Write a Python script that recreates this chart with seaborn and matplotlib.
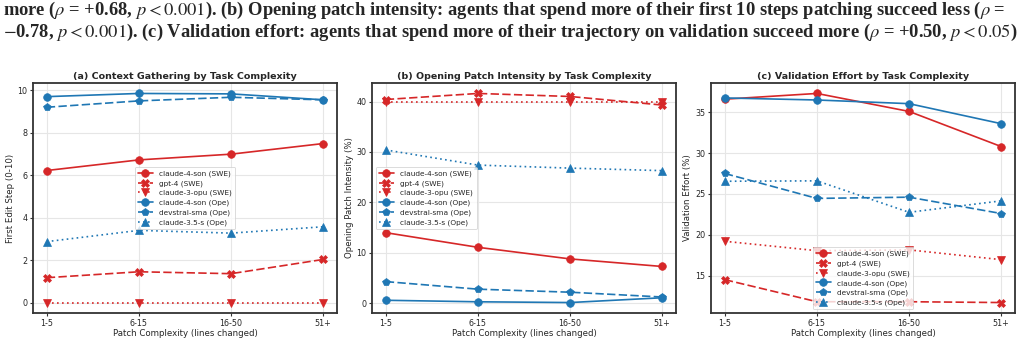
import numpy as np
import pandas as pd
import seaborn as sns
import matplotlib.pyplot as plt

#### Data ####

bins = ["1-5", "6-15", "16-50", "51+"]
models = ["claude-4-son (SWE)", "gpt-4 (SWE)", "claude-3-opu (SWE)",
          "claude-4-son (Ope)", "devstral-sma (Ope)", "claude-3.5-s (Ope)"]

# (a) first edit step (0-10)
first_edit = {
    "claude-4-son (SWE)": [6.22, 6.72, 6.99, 7.49],
    "gpt-4 (SWE)": [1.17, 1.45, 1.36, 2.03],
    "claude-3-opu (SWE)": [0.0, 0.0, 0.0, 0.0],
    "claude-4-son (Ope)": [9.70, 9.85, 9.83, 9.55],
    "devstral-sma (Ope)": [9.20, 9.50, 9.67, 9.55],
    "claude-3.5-s (Ope)": [2.87, 3.40, 3.27, 3.57],
}

# (b) opening patch intensity (%)
patch_intensity = {
    "claude-4-son (SWE)": [14.0, 11.1, 8.8, 7.3],
    "gpt-4 (SWE)": [40.4, 41.6, 41.0, 39.3],
    "claude-3-opu (SWE)": [40.0, 40.0, 40.0, 40.0],
    "claude-4-son (Ope)": [0.6, 0.3, 0.15, 1.1],
    "devstral-sma (Ope)": [4.3, 2.8, 2.2, 1.25],
    "claude-3.5-s (Ope)": [30.4, 27.4, 26.8, 26.3],
}

# (c) validation effort (%)
validation = {
    "claude-4-son (SWE)": [36.6, 37.3, 35.1, 30.8],
    "gpt-4 (SWE)": [14.5, 11.8, 11.8, 11.7],
    "claude-3-opu (SWE)": [19.2, 18.05, 18.15, 16.95],
    "claude-4-son (Ope)": [36.75, 36.5, 36.05, 33.6],
    "devstral-sma (Ope)": [27.5, 24.45, 24.6, 22.6],
    "claude-3.5-s (Ope)": [26.55, 26.6, 22.75, 24.15],
}

red = "#d62728"
blue = "#1f77b4"
palette = dict(zip(models, [red, red, red, blue, blue, blue]))
markers = dict(zip(models, ["o", "X", "v", "o", "p", "^"]))
dashes = dict(zip(models, ["", (5, 2), (1, 2), "", (5, 2), (1, 2)]))


def to_long(values):
    rows = []
    for m in models:
        for b, v in zip(bins, values[m]):
            rows.append({"bin": b, "value": v, "model": m})
    return pd.DataFrame(rows)


sns.set_style("whitegrid", {
    "axes.edgecolor": "#333333",
    "grid.color": "#e6e6e6",
    "xtick.bottom": True,
    "ytick.left": True,
})
plt.rcParams["axes.linewidth"] = 1.3
plt.rcParams["mathtext.fontset"] = "stix"

fig = plt.figure(figsize=(10.21, 3.44), dpi=100)

caption1 = (r"more ($\rho$ = +0.68, $p < 0.001$). (b) Opening patch intensity: agents that spend more "
            r"of their first 10 steps patching succeed less ($\rho$ =")
caption2 = (r"$-$0.78, $p < 0.001$). (c) Validation effort: agents that spend more of their trajectory "
            r"on validation succeed more ($\rho$ = +0.50, $p < 0.05$)")
fig.text(0.003, 1 - 15 / 344, caption1, family="Liberation Serif", weight="bold", fontsize=13.3, va="baseline")
fig.text(0.003, 1 - 37 / 344, caption2, family="Liberation Serif", weight="bold", fontsize=13.3, va="baseline")

panels = [
    (first_edit, "(a) Context Gathering by Task Complexity", "First Edit Step (0-10)", 33, "center"),
    (patch_intensity, "(b) Opening Patch Intensity by Task Complexity", "Opening Patch Intensity (%)", 372, "center left"),
    (validation, "(c) Validation Effort by Task Complexity", "Validation Effort (%)", 711, "lower center"),
]

for values, title, ylabel, left, loc in panels:
    ax = fig.add_axes([left / 1021, 31 / 344, 304 / 1021, 230 / 344])
    sns.lineplot(
        data=to_long(values),
        x="bin",
        y="value",
        hue="model",
        style="model",
        palette=palette,
        markers=markers,
        dashes=dashes,
        linewidth=1.2,
        markersize=5.5,
        markeredgewidth=0.5,
        ax=ax,
    )
    for line in ax.get_lines():
        line.set_markeredgecolor(line.get_color())
    ax.set_title(title, fontsize=6.8, weight="bold", pad=3)
    ax.set_xlabel("Patch Complexity (lines changed)", fontsize=6.2, labelpad=1)
    ax.set_ylabel(ylabel, fontsize=6.2, labelpad=2)
    ax.tick_params(labelsize=5.8, length=2.5, width=0.8, pad=1.5, color="#333333")
    ax.grid(True, linewidth=0.8)
    leg = ax.legend(loc=loc, fontsize=5.3, frameon=True, borderpad=0.45, labelspacing=0.42,
                    handlelength=2.0, handletextpad=0.9, title=None)
    leg.get_frame().set_linewidth(0.6)
    for h in leg.legend_handles:
        h.set_markeredgecolor(h.get_color())

plt.savefig("out.png", dpi=100)
